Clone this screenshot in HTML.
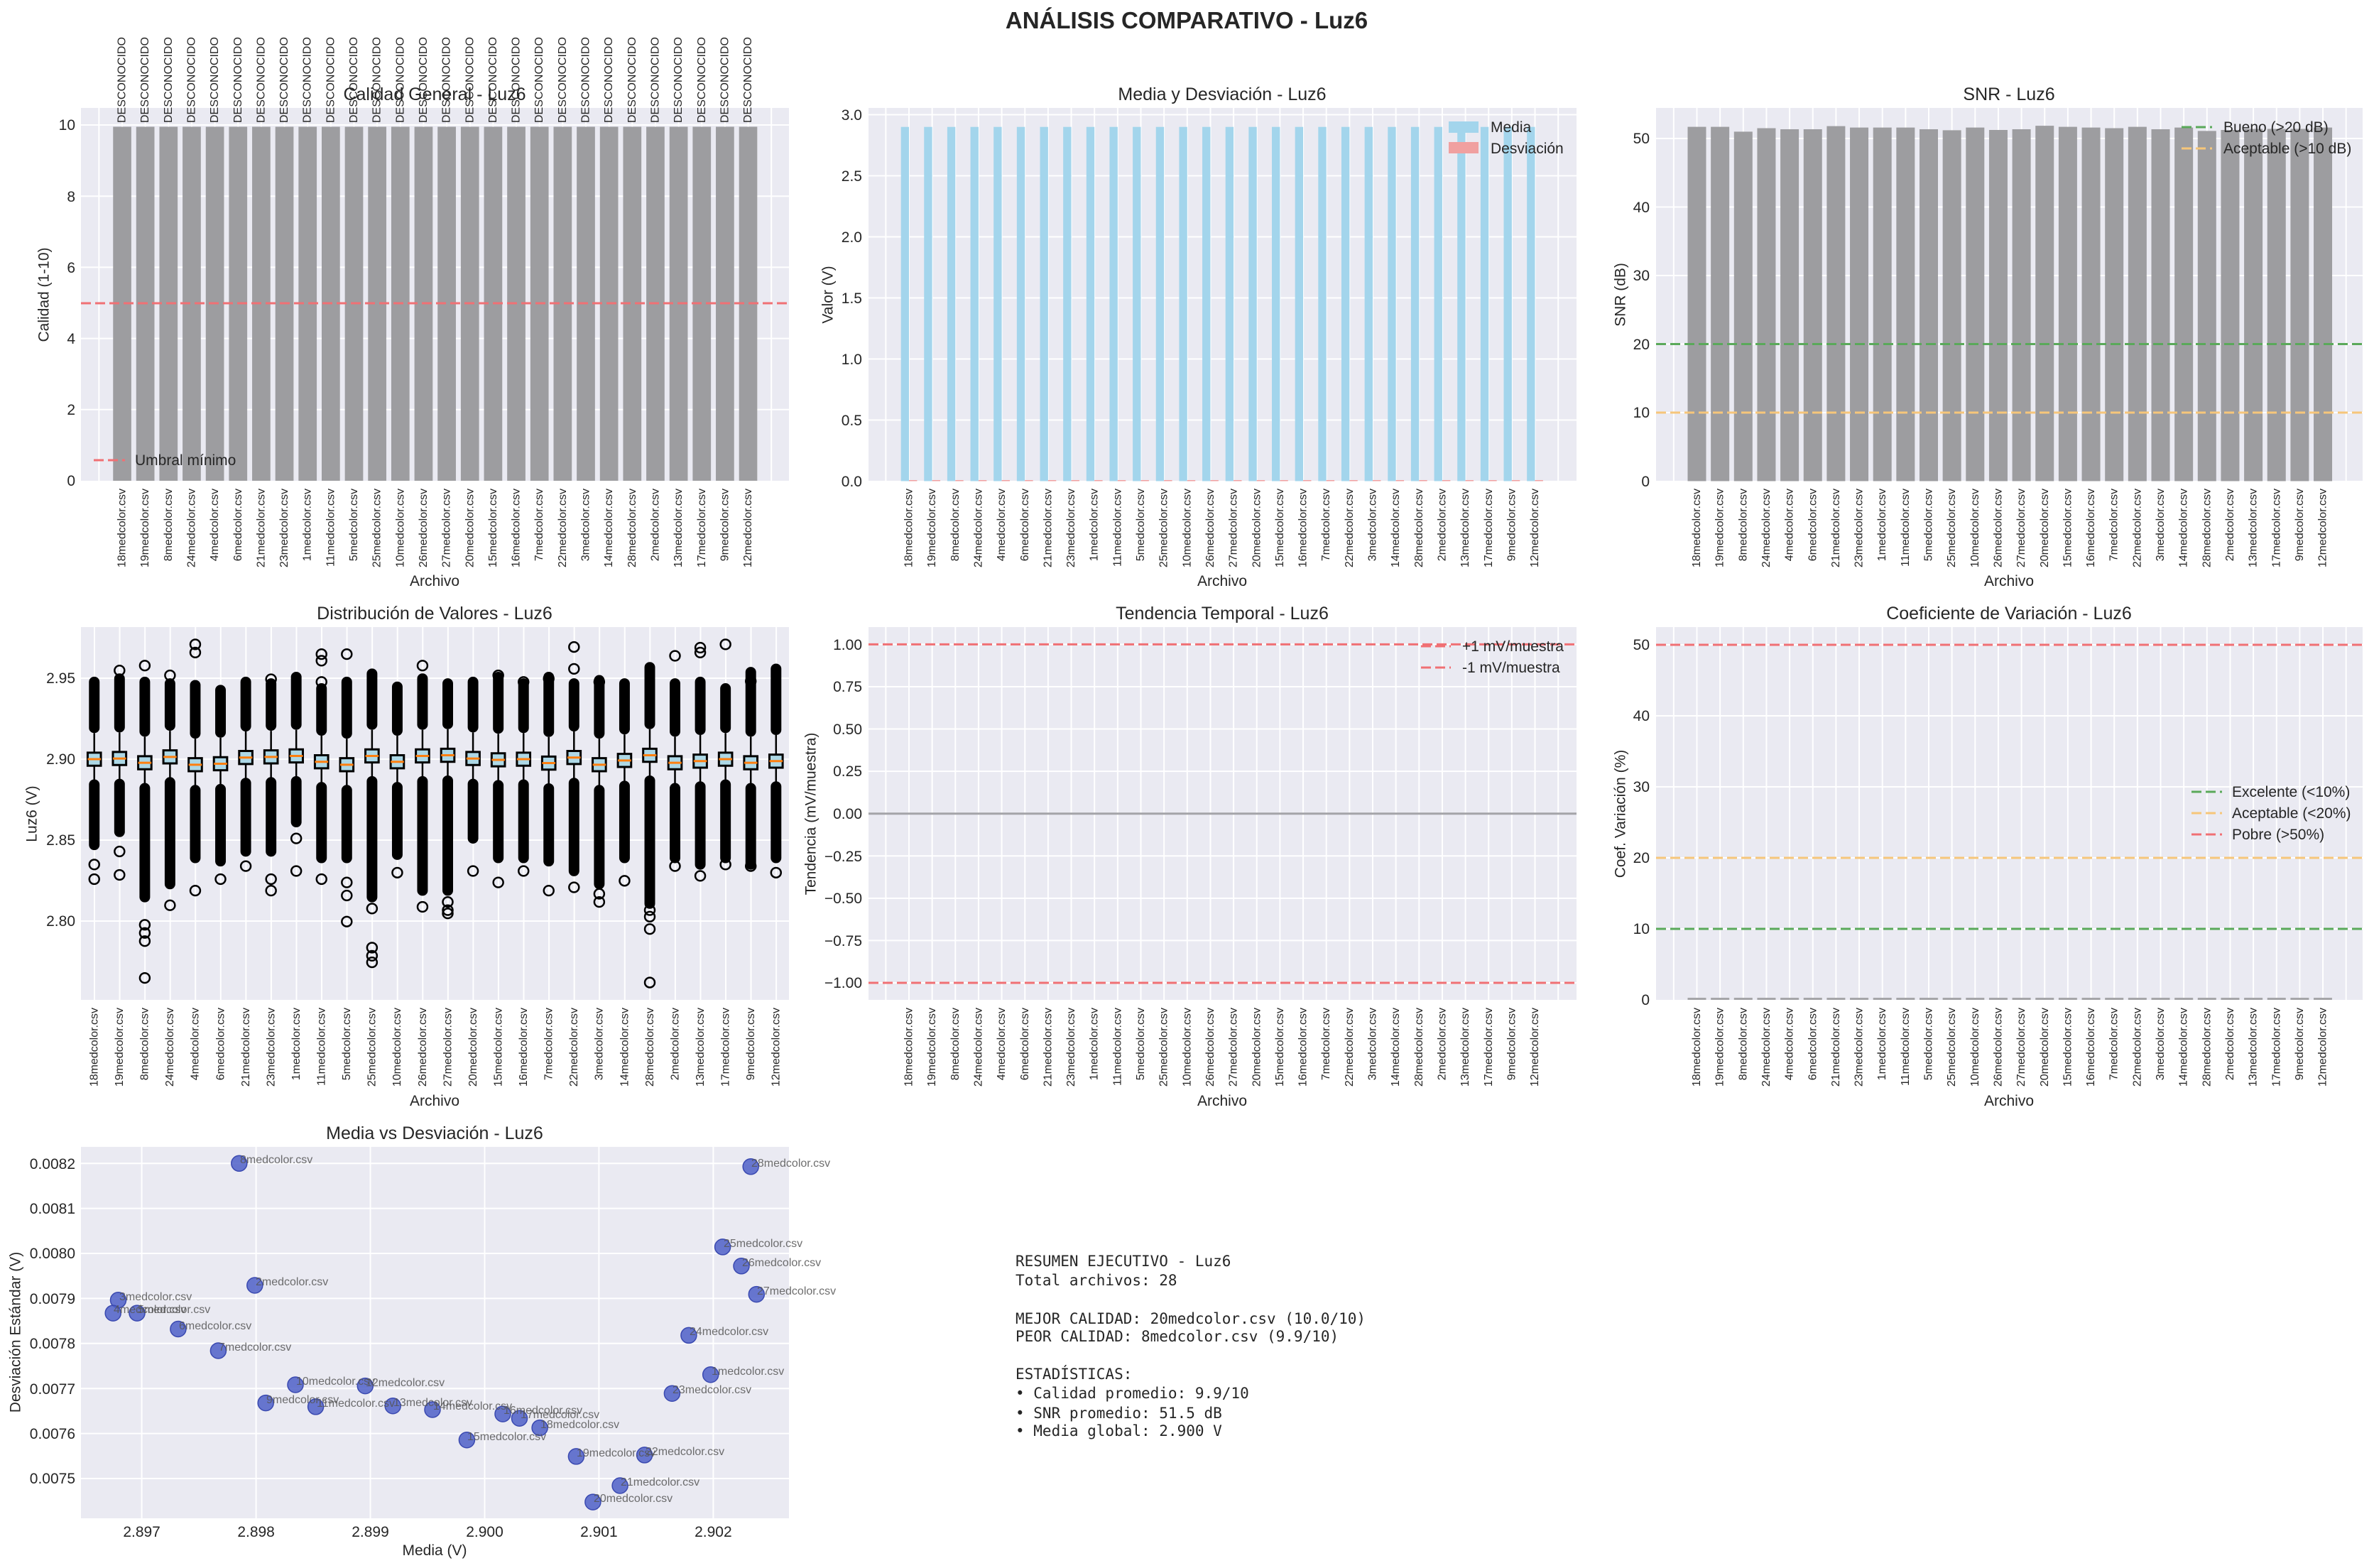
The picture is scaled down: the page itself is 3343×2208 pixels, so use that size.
<!DOCTYPE html>
<html><head><meta charset="utf-8"><style>
html,body{margin:0;padding:0;background:#fff}
svg{display:block;font-family:"Liberation Sans",Arial,sans-serif;fill:#262626}
.t{font-size:21px}
.tr{font-size:21px;text-anchor:end}
.tc{font-size:21px;text-anchor:middle}
.ttl{font-size:25px;text-anchor:middle}
.yl{font-size:21px;text-anchor:middle;dominant-baseline:central}
.xl text{font-size:16px;text-anchor:end;dominant-baseline:central}
.ds text{font-size:16px;text-anchor:start;dominant-baseline:central}
.sl{font-size:16px;fill:#555;fill-opacity:.85}
.mono{font-family:"DejaVu Sans Mono","Liberation Mono",monospace;font-size:21px;white-space:pre}
.d{fill:#000}
.w{stroke:#000;stroke-width:2.5;vector-effect:non-scaling-stroke}
.b{fill:#add8e6;stroke:#000;stroke-width:3;vector-effect:non-scaling-stroke}
.md{stroke:#ff7f0e;stroke-width:3;vector-effect:non-scaling-stroke}
.o{fill:none;stroke:#000;stroke-width:2.5;vector-effect:non-scaling-stroke}
.hg{stroke:#fff;stroke-width:2}
</style></head><body>
<svg width="3343" height="2208" viewBox="0 0 3343 2208" xmlns="http://www.w3.org/2000/svg">
<defs>
<pattern id="v1" patternUnits="userSpaceOnUse" x="171" y="0" width="32.65" height="10"><rect x="0" y="0" width="2" height="10" fill="#fff"/></pattern>
<pattern id="v2" patternUnits="userSpaceOnUse" x="1279" y="0" width="32.65" height="10"><rect x="0" y="0" width="2" height="10" fill="#fff"/></pattern>
<pattern id="v3" patternUnits="userSpaceOnUse" x="2388.5" y="0" width="32.65" height="10"><rect x="0" y="0" width="2" height="10" fill="#fff"/></pattern>
<pattern id="v4" patternUnits="userSpaceOnUse" x="132" y="0" width="35.56" height="10"><rect x="0" y="0" width="2" height="10" fill="#fff"/></pattern>
<pattern id="b1" patternUnits="userSpaceOnUse" x="159.15" y="0" width="32.65" height="2000"><rect x="0" y="0" width="25.7" height="2000" fill="#9d9da0"/></pattern>
<pattern id="b2" patternUnits="userSpaceOnUse" x="1268.6" y="0" width="32.65" height="2000"><rect x="0" y="0" width="11.4" height="2000" fill="#a3d5ec"/></pattern>
<pattern id="b2d" patternUnits="userSpaceOnUse" x="1280" y="0" width="32.65" height="2000"><rect x="0" y="0" width="11.4" height="2000" fill="#f0a0a0"/></pattern>
<pattern id="b6" patternUnits="userSpaceOnUse" x="2376.5" y="0" width="32.65" height="2000"><rect x="0" y="0" width="26" height="2000" fill="#a5a5a8"/></pattern>
</defs>

<text x="1671" y="40" style="font-size:33px;font-weight:bold;text-anchor:middle">ANÁLISIS COMPARATIVO - Luz6</text>

<!-- ========== PANEL 1 ========== -->
<rect x="114" y="152" width="997" height="525" fill="#eaeaf2"/>
<g class="hg"><line x1="114" x2="1111" y1="576.8" y2="576.8"/><line x1="114" x2="1111" y1="476.6" y2="476.6"/><line x1="114" x2="1111" y1="376.4" y2="376.4"/><line x1="114" x2="1111" y1="276.2" y2="276.2"/><line x1="114" x2="1111" y1="176" y2="176"/></g>
<rect x="114" y="152" width="997" height="525" fill="url(#v1)"/>
<rect x="159.15" y="178.5" width="907.25" height="498.5" fill="url(#b1)"/>
<line x1="114" x2="1111" y1="427" y2="427" stroke="#f07074" stroke-width="3" stroke-dasharray="14 6"/>
<line x1="132" x2="176" y1="648" y2="648" stroke="#f07074" stroke-width="3" stroke-dasharray="14 6"/>
<text class="t" x="190" y="655">Umbral mínimo</text>
<g class="tr"><text x="106" y="684">0</text><text x="106" y="584">2</text><text x="106" y="484">4</text><text x="106" y="384">6</text><text x="106" y="284">8</text><text x="106" y="183">10</text></g>
<text class="ttl" x="612" y="141">Calidad General - Luz6</text>
<text class="yl" transform="translate(62,415) rotate(-90)">Calidad (1-10)</text>
<text class="tc" x="612" y="825">Archivo</text>
<g class="ds" transform="translate(172,173) rotate(-90)">
<text x="0" y="0">DESCONOCIDO</text><text x="0" y="32.65">DESCONOCIDO</text><text x="0" y="65.3">DESCONOCIDO</text><text x="0" y="97.95">DESCONOCIDO</text><text x="0" y="130.6">DESCONOCIDO</text><text x="0" y="163.25">DESCONOCIDO</text><text x="0" y="195.9">DESCONOCIDO</text><text x="0" y="228.55">DESCONOCIDO</text><text x="0" y="261.2">DESCONOCIDO</text><text x="0" y="293.85">DESCONOCIDO</text><text x="0" y="326.5">DESCONOCIDO</text><text x="0" y="359.15">DESCONOCIDO</text><text x="0" y="391.8">DESCONOCIDO</text><text x="0" y="424.45">DESCONOCIDO</text><text x="0" y="457.1">DESCONOCIDO</text><text x="0" y="489.75">DESCONOCIDO</text><text x="0" y="522.4">DESCONOCIDO</text><text x="0" y="555.05">DESCONOCIDO</text><text x="0" y="587.7">DESCONOCIDO</text><text x="0" y="620.35">DESCONOCIDO</text><text x="0" y="653">DESCONOCIDO</text><text x="0" y="685.65">DESCONOCIDO</text><text x="0" y="718.3">DESCONOCIDO</text><text x="0" y="750.95">DESCONOCIDO</text><text x="0" y="783.6">DESCONOCIDO</text><text x="0" y="816.25">DESCONOCIDO</text><text x="0" y="848.9">DESCONOCIDO</text><text x="0" y="881.55">DESCONOCIDO</text>
</g>
<g class="xl" transform="translate(172,688) rotate(-90)">
<text x="0" y="0">18medcolor.csv</text><text x="0" y="32.65">19medcolor.csv</text><text x="0" y="65.3">8medcolor.csv</text><text x="0" y="97.95">24medcolor.csv</text><text x="0" y="130.6">4medcolor.csv</text><text x="0" y="163.25">6medcolor.csv</text><text x="0" y="195.9">21medcolor.csv</text><text x="0" y="228.55">23medcolor.csv</text><text x="0" y="261.2">1medcolor.csv</text><text x="0" y="293.85">11medcolor.csv</text><text x="0" y="326.5">5medcolor.csv</text><text x="0" y="359.15">25medcolor.csv</text><text x="0" y="391.8">10medcolor.csv</text><text x="0" y="424.45">26medcolor.csv</text><text x="0" y="457.1">27medcolor.csv</text><text x="0" y="489.75">20medcolor.csv</text><text x="0" y="522.4">15medcolor.csv</text><text x="0" y="555.05">16medcolor.csv</text><text x="0" y="587.7">7medcolor.csv</text><text x="0" y="620.35">22medcolor.csv</text><text x="0" y="653">3medcolor.csv</text><text x="0" y="685.65">14medcolor.csv</text><text x="0" y="718.3">28medcolor.csv</text><text x="0" y="750.95">2medcolor.csv</text><text x="0" y="783.6">13medcolor.csv</text><text x="0" y="816.25">17medcolor.csv</text><text x="0" y="848.9">9medcolor.csv</text><text x="0" y="881.55">12medcolor.csv</text>
</g>

<!-- ========== PANEL 2 ========== -->
<rect x="1223" y="152" width="997" height="525" fill="#eaeaf2"/>
<g class="hg"><line x1="1223" x2="2220" y1="591.5" y2="591.5"/><line x1="1223" x2="2220" y1="505.5" y2="505.5"/><line x1="1223" x2="2220" y1="419.5" y2="419.5"/><line x1="1223" x2="2220" y1="333.5" y2="333.5"/><line x1="1223" x2="2220" y1="247.5" y2="247.5"/><line x1="1223" x2="2220" y1="161.5" y2="161.5"/></g>
<rect x="1223" y="152" width="997" height="525" fill="url(#v2)"/>
<rect x="1268.6" y="178.7" width="892.95" height="498.8" fill="url(#b2)"/>
<rect x="1280" y="676" width="892.95" height="1.5" fill="url(#b2d)"/>
<rect x="2040" y="171" width="42" height="16" fill="#a3d5ec"/>
<rect x="2040" y="200" width="42" height="16" fill="#f0a0a0"/>
<text class="t" x="2099" y="186">Media</text>
<text class="t" x="2099" y="216">Desviación</text>
<g class="tr"><text x="1214" y="685">0.0</text><text x="1214" y="599">0.5</text><text x="1214" y="513">1.0</text><text x="1214" y="427">1.5</text><text x="1214" y="341">2.0</text><text x="1214" y="255">2.5</text><text x="1214" y="169">3.0</text></g>
<text class="ttl" x="1721" y="141">Media y Desviación - Luz6</text>
<text class="yl" transform="translate(1166,415) rotate(-90)">Valor (V)</text>
<text class="tc" x="1721" y="825">Archivo</text>
<g class="xl" transform="translate(1280,688) rotate(-90)">
<text x="0" y="0">18medcolor.csv</text><text x="0" y="32.65">19medcolor.csv</text><text x="0" y="65.3">8medcolor.csv</text><text x="0" y="97.95">24medcolor.csv</text><text x="0" y="130.6">4medcolor.csv</text><text x="0" y="163.25">6medcolor.csv</text><text x="0" y="195.9">21medcolor.csv</text><text x="0" y="228.55">23medcolor.csv</text><text x="0" y="261.2">1medcolor.csv</text><text x="0" y="293.85">11medcolor.csv</text><text x="0" y="326.5">5medcolor.csv</text><text x="0" y="359.15">25medcolor.csv</text><text x="0" y="391.8">10medcolor.csv</text><text x="0" y="424.45">26medcolor.csv</text><text x="0" y="457.1">27medcolor.csv</text><text x="0" y="489.75">20medcolor.csv</text><text x="0" y="522.4">15medcolor.csv</text><text x="0" y="555.05">16medcolor.csv</text><text x="0" y="587.7">7medcolor.csv</text><text x="0" y="620.35">22medcolor.csv</text><text x="0" y="653">3medcolor.csv</text><text x="0" y="685.65">14medcolor.csv</text><text x="0" y="718.3">28medcolor.csv</text><text x="0" y="750.95">2medcolor.csv</text><text x="0" y="783.6">13medcolor.csv</text><text x="0" y="816.25">17medcolor.csv</text><text x="0" y="848.9">9medcolor.csv</text><text x="0" y="881.55">12medcolor.csv</text>
</g>

<!-- ========== PANEL 3 ========== -->
<rect x="2332" y="152" width="995" height="525" fill="#eaeaf2"/>
<g class="hg"><line x1="2332" x2="3327" y1="581" y2="581"/><line x1="2332" x2="3327" y1="484.5" y2="484.5"/><line x1="2332" x2="3327" y1="388" y2="388"/><line x1="2332" x2="3327" y1="291.5" y2="291.5"/><line x1="2332" x2="3327" y1="195" y2="195"/></g>
<rect x="2332" y="152" width="995" height="525" fill="url(#v3)"/>
<g fill="#9d9da0">
<rect x="2376.5" y="178.6" width="26" height="498.9"/><rect x="2409.15" y="178.6" width="26" height="498.9"/><rect x="2441.8" y="185.4" width="26" height="492.1"/><rect x="2474.45" y="180.5" width="26" height="497"/><rect x="2507.1" y="182" width="26" height="495.5"/><rect x="2539.75" y="182" width="26" height="495.5"/><rect x="2572.4" y="177.6" width="26" height="499.9"/><rect x="2605.05" y="179.6" width="26" height="497.9"/><rect x="2637.7" y="179.6" width="26" height="497.9"/><rect x="2670.35" y="179.6" width="26" height="497.9"/><rect x="2703" y="182" width="26" height="495.5"/><rect x="2735.65" y="183.4" width="26" height="494.1"/><rect x="2768.3" y="179.6" width="26" height="497.9"/><rect x="2800.95" y="183" width="26" height="494.5"/><rect x="2833.6" y="182" width="26" height="495.5"/><rect x="2866.25" y="177.1" width="26" height="500.4"/><rect x="2898.9" y="178.6" width="26" height="498.9"/><rect x="2931.55" y="179.6" width="26" height="497.9"/><rect x="2964.2" y="180.5" width="26" height="497"/><rect x="2996.85" y="178.6" width="26" height="498.9"/><rect x="3029.5" y="182" width="26" height="495.5"/><rect x="3062.15" y="179.6" width="26" height="497.9"/><rect x="3094.8" y="184.4" width="26" height="493.1"/><rect x="3127.45" y="183" width="26" height="494.5"/><rect x="3160.1" y="181.5" width="26" height="496"/><rect x="3192.75" y="181.5" width="26" height="496"/><rect x="3225.4" y="181.5" width="26" height="496"/><rect x="3258.05" y="179.6" width="26" height="497.9"/>
</g>
<line x1="2332" x2="3327" y1="484.5" y2="484.5" stroke="#5aa95a" stroke-width="3" stroke-dasharray="14 6"/>
<line x1="2332" x2="3327" y1="581" y2="581" stroke="#f6c67a" stroke-width="3" stroke-dasharray="14 6"/>
<line x1="3072" x2="3115" y1="179" y2="179" stroke="#5aa95a" stroke-width="3" stroke-dasharray="14 6"/>
<line x1="3072" x2="3115" y1="209" y2="209" stroke="#f6c67a" stroke-width="3" stroke-dasharray="14 6"/>
<text class="t" x="3131" y="186">Bueno (&gt;20 dB)</text>
<text class="t" x="3131" y="216">Aceptable (&gt;10 dB)</text>
<g class="tr"><text x="2323" y="685">0</text><text x="2323" y="588">10</text><text x="2323" y="492">20</text><text x="2323" y="395">30</text><text x="2323" y="299">40</text><text x="2323" y="202">50</text></g>
<text class="ttl" x="2829" y="141">SNR - Luz6</text>
<text class="yl" transform="translate(2282,415) rotate(-90)">SNR (dB)</text>
<text class="tc" x="2829" y="825">Archivo</text>
<g class="xl" transform="translate(2389.5,688) rotate(-90)">
<text x="0" y="0">18medcolor.csv</text><text x="0" y="32.65">19medcolor.csv</text><text x="0" y="65.3">8medcolor.csv</text><text x="0" y="97.95">24medcolor.csv</text><text x="0" y="130.6">4medcolor.csv</text><text x="0" y="163.25">6medcolor.csv</text><text x="0" y="195.9">21medcolor.csv</text><text x="0" y="228.55">23medcolor.csv</text><text x="0" y="261.2">1medcolor.csv</text><text x="0" y="293.85">11medcolor.csv</text><text x="0" y="326.5">5medcolor.csv</text><text x="0" y="359.15">25medcolor.csv</text><text x="0" y="391.8">10medcolor.csv</text><text x="0" y="424.45">26medcolor.csv</text><text x="0" y="457.1">27medcolor.csv</text><text x="0" y="489.75">20medcolor.csv</text><text x="0" y="522.4">15medcolor.csv</text><text x="0" y="555.05">16medcolor.csv</text><text x="0" y="587.7">7medcolor.csv</text><text x="0" y="620.35">22medcolor.csv</text><text x="0" y="653">3medcolor.csv</text><text x="0" y="685.65">14medcolor.csv</text><text x="0" y="718.3">28medcolor.csv</text><text x="0" y="750.95">2medcolor.csv</text><text x="0" y="783.6">13medcolor.csv</text><text x="0" y="816.25">17medcolor.csv</text><text x="0" y="848.9">9medcolor.csv</text><text x="0" y="881.55">12medcolor.csv</text>
</g>

<!-- ========== PANEL 4 (boxplot) ========== -->
<rect x="114" y="883" width="997" height="525" fill="#eaeaf2"/>
<g class="hg"><line x1="114" x2="1111" y1="955" y2="955"/><line x1="114" x2="1111" y1="1069" y2="1069"/><line x1="114" x2="1111" y1="1183" y2="1183"/><line x1="114" x2="1111" y1="1297" y2="1297"/></g>
<rect x="114" y="883" width="997" height="525" fill="url(#v4)"/>
<svg x="0" y="850" width="1150" height="720" viewBox="0 0 1568 1568" preserveAspectRatio="none" overflow="visible">
<g transform="translate(181,0)"><rect class="d" x="-10.2" y="224" width="20.4" height="173" rx="10.2" ry="16"/><rect class="d" x="-10.2" y="539" width="20.4" height="217" rx="10.2" ry="16"/><line class="w" x1="0" x2="0" y1="397" y2="555"/><rect class="b" x="-12.7" y="457" width="25.4" height="40"/><line class="md" x1="-12.7" x2="12.7" y1="477" y2="477"/><ellipse class="o" cx="0" cy="845" rx="9.5" ry="15"/><ellipse class="o" cx="0" cy="800" rx="9.5" ry="15"/></g>
<g transform="translate(229.5,0)"><rect class="d" x="-10.2" y="214" width="20.4" height="181" rx="10.2" ry="16"/><rect class="d" x="-10.2" y="537" width="20.4" height="179" rx="10.2" ry="16"/><line class="w" x1="0" x2="0" y1="395" y2="553"/><rect class="b" x="-12.7" y="455" width="25.4" height="40"/><line class="md" x1="-12.7" x2="12.7" y1="475" y2="475"/><ellipse class="o" cx="0" cy="832" rx="9.5" ry="15"/><ellipse class="o" cx="0" cy="760" rx="9.5" ry="15"/><ellipse class="o" cx="0" cy="205" rx="9.5" ry="15"/></g>
<g transform="translate(278,0)"><rect class="d" x="-10.2" y="224" width="20.4" height="184" rx="10.2" ry="16"/><rect class="d" x="-10.2" y="550" width="20.4" height="366" rx="10.2" ry="16"/><line class="w" x1="0" x2="0" y1="408" y2="566"/><rect class="b" x="-12.7" y="468" width="25.4" height="40"/><line class="md" x1="-12.7" x2="12.7" y1="488" y2="488"/><ellipse class="o" cx="0" cy="1035" rx="9.5" ry="15"/><ellipse class="o" cx="0" cy="1010" rx="9.5" ry="15"/><ellipse class="o" cx="0" cy="1148" rx="9.5" ry="15"/><ellipse class="o" cx="0" cy="190" rx="9.5" ry="15"/><ellipse class="o" cx="0" cy="985" rx="9.5" ry="15"/></g>
<g transform="translate(326.4,0)"><rect class="d" x="-10.2" y="229" width="20.4" height="161" rx="10.2" ry="16"/><rect class="d" x="-10.2" y="532" width="20.4" height="344" rx="10.2" ry="16"/><line class="w" x1="0" x2="0" y1="390" y2="548"/><rect class="b" x="-12.7" y="450" width="25.4" height="40"/><line class="md" x1="-12.7" x2="12.7" y1="470" y2="470"/><ellipse class="o" cx="0" cy="925" rx="9.5" ry="15"/><ellipse class="o" cx="0" cy="220" rx="9.5" ry="15"/></g>
<g transform="translate(374.9,0)"><rect class="d" x="-10.2" y="234" width="20.4" height="180" rx="10.2" ry="16"/><rect class="d" x="-10.2" y="556" width="20.4" height="240" rx="10.2" ry="16"/><line class="w" x1="0" x2="0" y1="414" y2="572"/><rect class="b" x="-12.7" y="474" width="25.4" height="40"/><line class="md" x1="-12.7" x2="12.7" y1="494" y2="494"/><ellipse class="o" cx="0" cy="880" rx="9.5" ry="15"/><ellipse class="o" cx="0" cy="125" rx="9.5" ry="15"/><ellipse class="o" cx="0" cy="150" rx="9.5" ry="15"/></g>
<g transform="translate(423.4,0)"><rect class="d" x="-10.2" y="249" width="20.4" height="162" rx="10.2" ry="16"/><rect class="d" x="-10.2" y="553" width="20.4" height="253" rx="10.2" ry="16"/><line class="w" x1="0" x2="0" y1="411" y2="569"/><rect class="b" x="-12.7" y="471" width="25.4" height="40"/><line class="md" x1="-12.7" x2="12.7" y1="491" y2="491"/><ellipse class="o" cx="0" cy="845" rx="9.5" ry="15"/></g>
<g transform="translate(471.9,0)"><rect class="d" x="-10.2" y="224" width="20.4" height="168" rx="10.2" ry="16"/><rect class="d" x="-10.2" y="534" width="20.4" height="242" rx="10.2" ry="16"/><line class="w" x1="0" x2="0" y1="392" y2="550"/><rect class="b" x="-12.7" y="452" width="25.4" height="40"/><line class="md" x1="-12.7" x2="12.7" y1="472" y2="472"/><ellipse class="o" cx="0" cy="805" rx="9.5" ry="15"/></g>
<g transform="translate(520.4,0)"><rect class="d" x="-10.2" y="229" width="20.4" height="161" rx="10.2" ry="16"/><rect class="d" x="-10.2" y="532" width="20.4" height="244" rx="10.2" ry="16"/><line class="w" x1="0" x2="0" y1="390" y2="548"/><rect class="b" x="-12.7" y="450" width="25.4" height="40"/><line class="md" x1="-12.7" x2="12.7" y1="470" y2="470"/><ellipse class="o" cx="0" cy="845" rx="9.5" ry="15"/><ellipse class="o" cx="0" cy="880" rx="9.5" ry="15"/><ellipse class="o" cx="0" cy="232" rx="9.5" ry="15"/></g>
<g transform="translate(568.8,0)"><rect class="d" x="-10.2" y="209" width="20.4" height="178" rx="10.2" ry="16"/><rect class="d" x="-10.2" y="529" width="20.4" height="157" rx="10.2" ry="16"/><line class="w" x1="0" x2="0" y1="387" y2="545"/><rect class="b" x="-12.7" y="447" width="25.4" height="40"/><line class="md" x1="-12.7" x2="12.7" y1="467" y2="467"/><ellipse class="o" cx="0" cy="720" rx="9.5" ry="15"/><ellipse class="o" cx="0" cy="820" rx="9.5" ry="15"/></g>
<g transform="translate(617.3,0)"><rect class="d" x="-10.2" y="244" width="20.4" height="161" rx="10.2" ry="16"/><rect class="d" x="-10.2" y="547" width="20.4" height="249" rx="10.2" ry="16"/><line class="w" x1="0" x2="0" y1="405" y2="563"/><rect class="b" x="-12.7" y="465" width="25.4" height="40"/><line class="md" x1="-12.7" x2="12.7" y1="485" y2="485"/><ellipse class="o" cx="0" cy="845" rx="9.5" ry="15"/><ellipse class="o" cx="0" cy="155" rx="9.5" ry="15"/><ellipse class="o" cx="0" cy="175" rx="9.5" ry="15"/><ellipse class="o" cx="0" cy="240" rx="9.5" ry="15"/></g>
<g transform="translate(665.8,0)"><rect class="d" x="-10.2" y="224" width="20.4" height="190" rx="10.2" ry="16"/><rect class="d" x="-10.2" y="556" width="20.4" height="240" rx="10.2" ry="16"/><line class="w" x1="0" x2="0" y1="414" y2="572"/><rect class="b" x="-12.7" y="474" width="25.4" height="40"/><line class="md" x1="-12.7" x2="12.7" y1="494" y2="494"/><ellipse class="o" cx="0" cy="855" rx="9.5" ry="15"/><ellipse class="o" cx="0" cy="895" rx="9.5" ry="15"/><ellipse class="o" cx="0" cy="975" rx="9.5" ry="15"/><ellipse class="o" cx="0" cy="155" rx="9.5" ry="15"/></g>
<g transform="translate(714.3,0)"><rect class="d" x="-10.2" y="199" width="20.4" height="188" rx="10.2" ry="16"/><rect class="d" x="-10.2" y="529" width="20.4" height="387" rx="10.2" ry="16"/><line class="w" x1="0" x2="0" y1="387" y2="545"/><rect class="b" x="-12.7" y="447" width="25.4" height="40"/><line class="md" x1="-12.7" x2="12.7" y1="467" y2="467"/><ellipse class="o" cx="0" cy="935" rx="9.5" ry="15"/><ellipse class="o" cx="0" cy="1055" rx="9.5" ry="15"/><ellipse class="o" cx="0" cy="1080" rx="9.5" ry="15"/><ellipse class="o" cx="0" cy="1100" rx="9.5" ry="15"/></g>
<g transform="translate(762.8,0)"><rect class="d" x="-10.2" y="239" width="20.4" height="166" rx="10.2" ry="16"/><rect class="d" x="-10.2" y="547" width="20.4" height="239" rx="10.2" ry="16"/><line class="w" x1="0" x2="0" y1="405" y2="563"/><rect class="b" x="-12.7" y="465" width="25.4" height="40"/><line class="md" x1="-12.7" x2="12.7" y1="485" y2="485"/><ellipse class="o" cx="0" cy="825" rx="9.5" ry="15"/></g>
<g transform="translate(811.2,0)"><rect class="d" x="-10.2" y="214" width="20.4" height="173" rx="10.2" ry="16"/><rect class="d" x="-10.2" y="529" width="20.4" height="367" rx="10.2" ry="16"/><line class="w" x1="0" x2="0" y1="387" y2="545"/><rect class="b" x="-12.7" y="447" width="25.4" height="40"/><line class="md" x1="-12.7" x2="12.7" y1="467" y2="467"/><ellipse class="o" cx="0" cy="930" rx="9.5" ry="15"/><ellipse class="o" cx="0" cy="190" rx="9.5" ry="15"/></g>
<g transform="translate(859.7,0)"><rect class="d" x="-10.2" y="229" width="20.4" height="156" rx="10.2" ry="16"/><rect class="d" x="-10.2" y="527" width="20.4" height="369" rx="10.2" ry="16"/><line class="w" x1="0" x2="0" y1="385" y2="543"/><rect class="b" x="-12.7" y="445" width="25.4" height="40"/><line class="md" x1="-12.7" x2="12.7" y1="465" y2="465"/><ellipse class="o" cx="0" cy="940" rx="9.5" ry="15"/><ellipse class="o" cx="0" cy="915" rx="9.5" ry="15"/><ellipse class="o" cx="0" cy="950" rx="9.5" ry="15"/></g>
<g transform="translate(908.2,0)"><rect class="d" x="-10.2" y="224" width="20.4" height="171" rx="10.2" ry="16"/><rect class="d" x="-10.2" y="537" width="20.4" height="199" rx="10.2" ry="16"/><line class="w" x1="0" x2="0" y1="395" y2="553"/><rect class="b" x="-12.7" y="455" width="25.4" height="40"/><line class="md" x1="-12.7" x2="12.7" y1="475" y2="475"/><ellipse class="o" cx="0" cy="820" rx="9.5" ry="15"/></g>
<g transform="translate(956.7,0)"><rect class="d" x="-10.2" y="209" width="20.4" height="190" rx="10.2" ry="16"/><rect class="d" x="-10.2" y="541" width="20.4" height="255" rx="10.2" ry="16"/><line class="w" x1="0" x2="0" y1="399" y2="557"/><rect class="b" x="-12.7" y="459" width="25.4" height="40"/><line class="md" x1="-12.7" x2="12.7" y1="479" y2="479"/><ellipse class="o" cx="0" cy="855" rx="9.5" ry="15"/><ellipse class="o" cx="0" cy="220" rx="9.5" ry="15"/></g>
<g transform="translate(1005.2,0)"><rect class="d" x="-10.2" y="229" width="20.4" height="168" rx="10.2" ry="16"/><rect class="d" x="-10.2" y="539" width="20.4" height="257" rx="10.2" ry="16"/><line class="w" x1="0" x2="0" y1="397" y2="555"/><rect class="b" x="-12.7" y="457" width="25.4" height="40"/><line class="md" x1="-12.7" x2="12.7" y1="477" y2="477"/><ellipse class="o" cx="0" cy="820" rx="9.5" ry="15"/><ellipse class="o" cx="0" cy="240" rx="9.5" ry="15"/></g>
<g transform="translate(1053.6,0)"><rect class="d" x="-10.2" y="209" width="20.4" height="200" rx="10.2" ry="16"/><rect class="d" x="-10.2" y="551" width="20.4" height="255" rx="10.2" ry="16"/><line class="w" x1="0" x2="0" y1="409" y2="567"/><rect class="b" x="-12.7" y="469" width="25.4" height="40"/><line class="md" x1="-12.7" x2="12.7" y1="489" y2="489"/><ellipse class="o" cx="0" cy="880" rx="9.5" ry="15"/><ellipse class="o" cx="0" cy="230" rx="9.5" ry="15"/></g>
<g transform="translate(1102.1,0)"><rect class="d" x="-10.2" y="229" width="20.4" height="163" rx="10.2" ry="16"/><rect class="d" x="-10.2" y="534" width="20.4" height="302" rx="10.2" ry="16"/><line class="w" x1="0" x2="0" y1="392" y2="550"/><rect class="b" x="-12.7" y="452" width="25.4" height="40"/><line class="md" x1="-12.7" x2="12.7" y1="472" y2="472"/><ellipse class="o" cx="0" cy="870" rx="9.5" ry="15"/><ellipse class="o" cx="0" cy="200" rx="9.5" ry="15"/><ellipse class="o" cx="0" cy="133" rx="9.5" ry="15"/></g>
<g transform="translate(1150.6,0)"><rect class="d" x="-10.2" y="219" width="20.4" height="195" rx="10.2" ry="16"/><rect class="d" x="-10.2" y="556" width="20.4" height="320" rx="10.2" ry="16"/><line class="w" x1="0" x2="0" y1="414" y2="572"/><rect class="b" x="-12.7" y="474" width="25.4" height="40"/><line class="md" x1="-12.7" x2="12.7" y1="494" y2="494"/><ellipse class="o" cx="0" cy="915" rx="9.5" ry="15"/><ellipse class="o" cx="0" cy="890" rx="9.5" ry="15"/><ellipse class="o" cx="0" cy="240" rx="9.5" ry="15"/></g>
<g transform="translate(1199.1,0)"><rect class="d" x="-10.2" y="229" width="20.4" height="172" rx="10.2" ry="16"/><rect class="d" x="-10.2" y="543" width="20.4" height="253" rx="10.2" ry="16"/><line class="w" x1="0" x2="0" y1="401" y2="559"/><rect class="b" x="-12.7" y="461" width="25.4" height="40"/><line class="md" x1="-12.7" x2="12.7" y1="481" y2="481"/><ellipse class="o" cx="0" cy="850" rx="9.5" ry="15"/></g>
<g transform="translate(1247.6,0)"><rect class="d" x="-10.2" y="179" width="20.4" height="206" rx="10.2" ry="16"/><rect class="d" x="-10.2" y="527" width="20.4" height="409" rx="10.2" ry="16"/><line class="w" x1="0" x2="0" y1="385" y2="543"/><rect class="b" x="-12.7" y="445" width="25.4" height="40"/><line class="md" x1="-12.7" x2="12.7" y1="465" y2="465"/><ellipse class="o" cx="0" cy="940" rx="9.5" ry="15"/><ellipse class="o" cx="0" cy="960" rx="9.5" ry="15"/><ellipse class="o" cx="0" cy="998" rx="9.5" ry="15"/><ellipse class="o" cx="0" cy="1162" rx="9.5" ry="15"/></g>
<g transform="translate(1296,0)"><rect class="d" x="-10.2" y="229" width="20.4" height="179" rx="10.2" ry="16"/><rect class="d" x="-10.2" y="550" width="20.4" height="246" rx="10.2" ry="16"/><line class="w" x1="0" x2="0" y1="408" y2="566"/><rect class="b" x="-12.7" y="468" width="25.4" height="40"/><line class="md" x1="-12.7" x2="12.7" y1="488" y2="488"/><ellipse class="o" cx="0" cy="805" rx="9.5" ry="15"/><ellipse class="o" cx="0" cy="160" rx="9.5" ry="15"/></g>
<g transform="translate(1344.5,0)"><rect class="d" x="-10.2" y="224" width="20.4" height="179" rx="10.2" ry="16"/><rect class="d" x="-10.2" y="545" width="20.4" height="271" rx="10.2" ry="16"/><line class="w" x1="0" x2="0" y1="403" y2="561"/><rect class="b" x="-12.7" y="463" width="25.4" height="40"/><line class="md" x1="-12.7" x2="12.7" y1="483" y2="483"/><ellipse class="o" cx="0" cy="835" rx="9.5" ry="15"/><ellipse class="o" cx="0" cy="135" rx="9.5" ry="15"/><ellipse class="o" cx="0" cy="150" rx="9.5" ry="15"/></g>
<g transform="translate(1393,0)"><rect class="d" x="-10.2" y="244" width="20.4" height="153" rx="10.2" ry="16"/><rect class="d" x="-10.2" y="539" width="20.4" height="257" rx="10.2" ry="16"/><line class="w" x1="0" x2="0" y1="397" y2="555"/><rect class="b" x="-12.7" y="457" width="25.4" height="40"/><line class="md" x1="-12.7" x2="12.7" y1="477" y2="477"/><ellipse class="o" cx="0" cy="800" rx="9.5" ry="15"/><ellipse class="o" cx="0" cy="125" rx="9.5" ry="15"/></g>
<g transform="translate(1441.5,0)"><rect class="d" x="-10.2" y="194" width="20.4" height="214" rx="10.2" ry="16"/><rect class="d" x="-10.2" y="550" width="20.4" height="266" rx="10.2" ry="16"/><line class="w" x1="0" x2="0" y1="408" y2="566"/><rect class="b" x="-12.7" y="468" width="25.4" height="40"/><line class="md" x1="-12.7" x2="12.7" y1="488" y2="488"/><ellipse class="o" cx="0" cy="805" rx="9.5" ry="15"/><ellipse class="o" cx="0" cy="238" rx="9.5" ry="15"/></g>
<g transform="translate(1490,0)"><rect class="d" x="-10.2" y="184" width="20.4" height="219" rx="10.2" ry="16"/><rect class="d" x="-10.2" y="545" width="20.4" height="251" rx="10.2" ry="16"/><line class="w" x1="0" x2="0" y1="403" y2="561"/><rect class="b" x="-12.7" y="463" width="25.4" height="40"/><line class="md" x1="-12.7" x2="12.7" y1="483" y2="483"/><ellipse class="o" cx="0" cy="825" rx="9.5" ry="15"/></g>
</svg>
<g class="tr"><text x="106" y="962">2.95</text><text x="106" y="1076">2.90</text><text x="106" y="1190">2.85</text><text x="106" y="1304">2.80</text></g>
<text class="ttl" x="612" y="872">Distribución de Valores - Luz6</text>
<text class="yl" transform="translate(45,1146) rotate(-90)">Luz6 (V)</text>
<text class="tc" x="612" y="1557">Archivo</text>
<g class="xl" transform="translate(133,1419) rotate(-90)">
<text x="0" y="0">18medcolor.csv</text><text x="0" y="35.56">19medcolor.csv</text><text x="0" y="71.12">8medcolor.csv</text><text x="0" y="106.68">24medcolor.csv</text><text x="0" y="142.24">4medcolor.csv</text><text x="0" y="177.8">6medcolor.csv</text><text x="0" y="213.36">21medcolor.csv</text><text x="0" y="248.92">23medcolor.csv</text><text x="0" y="284.48">1medcolor.csv</text><text x="0" y="320.04">11medcolor.csv</text><text x="0" y="355.6">5medcolor.csv</text><text x="0" y="391.16">25medcolor.csv</text><text x="0" y="426.72">10medcolor.csv</text><text x="0" y="462.28">26medcolor.csv</text><text x="0" y="497.84">27medcolor.csv</text><text x="0" y="533.4">20medcolor.csv</text><text x="0" y="568.96">15medcolor.csv</text><text x="0" y="604.52">16medcolor.csv</text><text x="0" y="640.08">7medcolor.csv</text><text x="0" y="675.64">22medcolor.csv</text><text x="0" y="711.2">3medcolor.csv</text><text x="0" y="746.76">14medcolor.csv</text><text x="0" y="782.32">28medcolor.csv</text><text x="0" y="817.88">2medcolor.csv</text><text x="0" y="853.44">13medcolor.csv</text><text x="0" y="889">17medcolor.csv</text><text x="0" y="924.56">9medcolor.csv</text><text x="0" y="960.12">12medcolor.csv</text>
</g>

<!-- ========== PANEL 5 ========== -->
<rect x="1223" y="883" width="997" height="525" fill="#eaeaf2"/>
<g class="hg"><line x1="1223" x2="2220" y1="907.4" y2="907.4"/><line x1="1223" x2="2220" y1="967" y2="967"/><line x1="1223" x2="2220" y1="1026.5" y2="1026.5"/><line x1="1223" x2="2220" y1="1086.1" y2="1086.1"/><line x1="1223" x2="2220" y1="1205.3" y2="1205.3"/><line x1="1223" x2="2220" y1="1264.9" y2="1264.9"/><line x1="1223" x2="2220" y1="1324.4" y2="1324.4"/><line x1="1223" x2="2220" y1="1384" y2="1384"/></g>
<rect x="1223" y="883" width="997" height="525" fill="url(#v2)"/>
<line x1="1223" x2="2220" y1="1145.7" y2="1145.7" stroke="#a4a4a8" stroke-width="3"/>
<line x1="1223" x2="2220" y1="907.4" y2="907.4" stroke="#f07074" stroke-width="3" stroke-dasharray="14 6"/>
<line x1="1223" x2="2220" y1="1384" y2="1384" stroke="#f07074" stroke-width="3" stroke-dasharray="14 6"/>
<line x1="2001" x2="2043" y1="910" y2="910" stroke="#f07074" stroke-width="3" stroke-dasharray="14 6"/>
<line x1="2001" x2="2043" y1="940" y2="940" stroke="#f07074" stroke-width="3" stroke-dasharray="14 6"/>
<text class="t" x="2059" y="917">+1 mV/muestra</text>
<text class="t" x="2059" y="947">-1 mV/muestra</text>
<g class="tr"><text x="1214" y="915">1.00</text><text x="1214" y="974">0.75</text><text x="1214" y="1034">0.50</text><text x="1214" y="1093">0.25</text><text x="1214" y="1153">0.00</text><text x="1214" y="1213">−0.25</text><text x="1214" y="1272">−0.50</text><text x="1214" y="1332">−0.75</text><text x="1214" y="1391">−1.00</text></g>
<text class="ttl" x="1721" y="872">Tendencia Temporal - Luz6</text>
<text class="yl" transform="translate(1142,1146) rotate(-90)">Tendencia (mV/muestra)</text>
<text class="tc" x="1721" y="1557">Archivo</text>
<g class="xl" transform="translate(1280,1419) rotate(-90)">
<text x="0" y="0">18medcolor.csv</text><text x="0" y="32.65">19medcolor.csv</text><text x="0" y="65.3">8medcolor.csv</text><text x="0" y="97.95">24medcolor.csv</text><text x="0" y="130.6">4medcolor.csv</text><text x="0" y="163.25">6medcolor.csv</text><text x="0" y="195.9">21medcolor.csv</text><text x="0" y="228.55">23medcolor.csv</text><text x="0" y="261.2">1medcolor.csv</text><text x="0" y="293.85">11medcolor.csv</text><text x="0" y="326.5">5medcolor.csv</text><text x="0" y="359.15">25medcolor.csv</text><text x="0" y="391.8">10medcolor.csv</text><text x="0" y="424.45">26medcolor.csv</text><text x="0" y="457.1">27medcolor.csv</text><text x="0" y="489.75">20medcolor.csv</text><text x="0" y="522.4">15medcolor.csv</text><text x="0" y="555.05">16medcolor.csv</text><text x="0" y="587.7">7medcolor.csv</text><text x="0" y="620.35">22medcolor.csv</text><text x="0" y="653">3medcolor.csv</text><text x="0" y="685.65">14medcolor.csv</text><text x="0" y="718.3">28medcolor.csv</text><text x="0" y="750.95">2medcolor.csv</text><text x="0" y="783.6">13medcolor.csv</text><text x="0" y="816.25">17medcolor.csv</text><text x="0" y="848.9">9medcolor.csv</text><text x="0" y="881.55">12medcolor.csv</text>
</g>

<!-- ========== PANEL 6 ========== -->
<rect x="2332" y="883" width="995" height="525" fill="#eaeaf2"/>
<g class="hg"><line x1="2332" x2="3327" y1="1308" y2="1308"/><line x1="2332" x2="3327" y1="1208" y2="1208"/><line x1="2332" x2="3327" y1="1108" y2="1108"/><line x1="2332" x2="3327" y1="1008" y2="1008"/><line x1="2332" x2="3327" y1="908" y2="908"/></g>
<rect x="2332" y="883" width="995" height="525" fill="url(#v3)"/>
<rect x="2376.5" y="1405" width="907.55" height="3" fill="url(#b6)"/>
<line x1="2332" x2="3327" y1="1308" y2="1308" stroke="#5aa95a" stroke-width="3" stroke-dasharray="14 6"/>
<line x1="2332" x2="3327" y1="1208" y2="1208" stroke="#f6c67a" stroke-width="3" stroke-dasharray="14 6"/>
<line x1="2332" x2="3327" y1="908" y2="908" stroke="#f07074" stroke-width="3" stroke-dasharray="14 6"/>
<line x1="3086" x2="3129" y1="1115" y2="1115" stroke="#5aa95a" stroke-width="3" stroke-dasharray="14 6"/>
<line x1="3086" x2="3129" y1="1145" y2="1145" stroke="#f6c67a" stroke-width="3" stroke-dasharray="14 6"/>
<line x1="3086" x2="3129" y1="1175" y2="1175" stroke="#f07074" stroke-width="3" stroke-dasharray="14 6"/>
<text class="t" x="3143" y="1122">Excelente (&lt;10%)</text>
<text class="t" x="3143" y="1152">Aceptable (&lt;20%)</text>
<text class="t" x="3143" y="1182">Pobre (&gt;50%)</text>
<g class="tr"><text x="2323" y="1415">0</text><text x="2323" y="1315">10</text><text x="2323" y="1215">20</text><text x="2323" y="1115">30</text><text x="2323" y="1015">40</text><text x="2323" y="915">50</text></g>
<text class="ttl" x="2829" y="872">Coeficiente de Variación - Luz6</text>
<text class="yl" transform="translate(2282,1146) rotate(-90)">Coef. Variación (%)</text>
<text class="tc" x="2829" y="1557">Archivo</text>
<g class="xl" transform="translate(2389.5,1419) rotate(-90)">
<text x="0" y="0">18medcolor.csv</text><text x="0" y="32.65">19medcolor.csv</text><text x="0" y="65.3">8medcolor.csv</text><text x="0" y="97.95">24medcolor.csv</text><text x="0" y="130.6">4medcolor.csv</text><text x="0" y="163.25">6medcolor.csv</text><text x="0" y="195.9">21medcolor.csv</text><text x="0" y="228.55">23medcolor.csv</text><text x="0" y="261.2">1medcolor.csv</text><text x="0" y="293.85">11medcolor.csv</text><text x="0" y="326.5">5medcolor.csv</text><text x="0" y="359.15">25medcolor.csv</text><text x="0" y="391.8">10medcolor.csv</text><text x="0" y="424.45">26medcolor.csv</text><text x="0" y="457.1">27medcolor.csv</text><text x="0" y="489.75">20medcolor.csv</text><text x="0" y="522.4">15medcolor.csv</text><text x="0" y="555.05">16medcolor.csv</text><text x="0" y="587.7">7medcolor.csv</text><text x="0" y="620.35">22medcolor.csv</text><text x="0" y="653">3medcolor.csv</text><text x="0" y="685.65">14medcolor.csv</text><text x="0" y="718.3">28medcolor.csv</text><text x="0" y="750.95">2medcolor.csv</text><text x="0" y="783.6">13medcolor.csv</text><text x="0" y="816.25">17medcolor.csv</text><text x="0" y="848.9">9medcolor.csv</text><text x="0" y="881.55">12medcolor.csv</text>
</g>

<!-- ========== PANEL 7 scatter ========== -->
<rect x="114" y="1615" width="997" height="523" fill="#eaeaf2"/>
<g class="hg"><line x1="114" x2="1111" y1="1638.2" y2="1638.2"/><line x1="114" x2="1111" y1="1701.6" y2="1701.6"/><line x1="114" x2="1111" y1="1765" y2="1765"/><line x1="114" x2="1111" y1="1828.4" y2="1828.4"/><line x1="114" x2="1111" y1="1891.8" y2="1891.8"/><line x1="114" x2="1111" y1="1955.2" y2="1955.2"/><line x1="114" x2="1111" y1="2018.6" y2="2018.6"/><line x1="114" x2="1111" y1="2082" y2="2082"/>
<line x1="199.6" x2="199.6" y1="1615" y2="2138"/><line x1="360.6" x2="360.6" y1="1615" y2="2138"/><line x1="521.5" x2="521.5" y1="1615" y2="2138"/><line x1="682.5" x2="682.5" y1="1615" y2="2138"/><line x1="843.4" x2="843.4" y1="1615" y2="2138"/><line x1="1004.4" x2="1004.4" y1="1615" y2="2138"/></g>
<g fill="#4f60c8" fill-opacity="0.85" stroke="#3a49b0" stroke-width="1.5">
<circle cx="336.8" cy="1638.3" r="11"/><circle cx="1057.2" cy="1642.8" r="11"/><circle cx="1017.6" cy="1755.9" r="11"/><circle cx="1044" cy="1782.8" r="11"/><circle cx="1065.3" cy="1822.6" r="11"/><circle cx="358.8" cy="1810" r="11"/><circle cx="166.5" cy="1830.8" r="11"/><circle cx="159.2" cy="1849.1" r="11"/><circle cx="193" cy="1849.1" r="11"/><circle cx="250.9" cy="1871.5" r="11"/><circle cx="307.4" cy="1902" r="11"/><circle cx="969.9" cy="1880.4" r="11"/><circle cx="1000.7" cy="1935.7" r="11"/><circle cx="946.4" cy="1962.2" r="11"/><circle cx="416" cy="1950" r="11"/><circle cx="514.3" cy="1951.6" r="11"/><circle cx="374.2" cy="1975.6" r="11"/><circle cx="444.6" cy="1980.9" r="11"/><circle cx="553.2" cy="1979.7" r="11"/><circle cx="609" cy="1985" r="11"/><circle cx="708" cy="1991.1" r="11"/><circle cx="731.5" cy="1997.2" r="11"/><circle cx="760.1" cy="2010.6" r="11"/><circle cx="657.4" cy="2027.7" r="11"/><circle cx="811.4" cy="2050.9" r="11"/><circle cx="907.6" cy="2048.9" r="11"/><circle cx="873.1" cy="2092" r="11"/><circle cx="834.9" cy="2115.1" r="11"/>
</g>
<g class="sl">
<text x="338" y="1638">8medcolor.csv</text><text x="1058" y="1643">28medcolor.csv</text><text x="1019" y="1756">25medcolor.csv</text><text x="1045" y="1783">26medcolor.csv</text><text x="1066" y="1823">27medcolor.csv</text><text x="360" y="1810">2medcolor.csv</text><text x="168" y="1831">3medcolor.csv</text><text x="160" y="1849">4medcolor.csv</text><text x="194" y="1849">5medcolor.csv</text><text x="252" y="1872">6medcolor.csv</text><text x="308" y="1902">7medcolor.csv</text><text x="971" y="1880">24medcolor.csv</text><text x="1002" y="1936">1medcolor.csv</text><text x="947" y="1962">23medcolor.csv</text><text x="417" y="1950">10medcolor.csv</text><text x="515" y="1952">12medcolor.csv</text><text x="375" y="1976">9medcolor.csv</text><text x="446" y="1981">11medcolor.csv</text><text x="554" y="1980">13medcolor.csv</text><text x="610" y="1985">14medcolor.csv</text><text x="709" y="1991">16medcolor.csv</text><text x="733" y="1997">17medcolor.csv</text><text x="761" y="2011">18medcolor.csv</text><text x="658" y="2028">15medcolor.csv</text><text x="812" y="2051">19medcolor.csv</text><text x="909" y="2049">22medcolor.csv</text><text x="874" y="2092">21medcolor.csv</text><text x="836" y="2115">20medcolor.csv</text>
</g>
<g class="tr"><text x="106" y="1646">0.0082</text><text x="106" y="1709">0.0081</text><text x="106" y="1772">0.0080</text><text x="106" y="1836">0.0079</text><text x="106" y="1899">0.0078</text><text x="106" y="1963">0.0077</text><text x="106" y="2026">0.0076</text><text x="106" y="2089">0.0075</text></g>
<g class="tc"><text x="199.6" y="2164">2.897</text><text x="360.6" y="2164">2.898</text><text x="521.5" y="2164">2.899</text><text x="682.5" y="2164">2.900</text><text x="843.4" y="2164">2.901</text><text x="1004.4" y="2164">2.902</text></g>
<text class="ttl" x="612" y="1604">Media vs Desviación - Luz6</text>
<text class="yl" transform="translate(22,1876) rotate(-90)">Desviación Estándar (V)</text>
<text class="tc" x="612" y="2190">Media (V)</text>

<!-- ========== Summary text ========== -->
<g class="mono">
<text x="1430" y="1783">RESUMEN EJECUTIVO - Luz6</text>
<text x="1430" y="1810">Total archivos: 28</text>
<text x="1430" y="1864">MEJOR CALIDAD: 20medcolor.csv (10.0/10)</text>
<text x="1430" y="1889">PEOR CALIDAD: 8medcolor.csv (9.9/10)</text>
<text x="1430" y="1942">ESTADÍSTICAS:</text>
<text x="1430" y="1969">• Calidad promedio: 9.9/10</text>
<text x="1430" y="1997">• SNR promedio: 51.5 dB</text>
<text x="1430" y="2022">• Media global: 2.900 V</text>
</g>
</svg>
</body></html>
